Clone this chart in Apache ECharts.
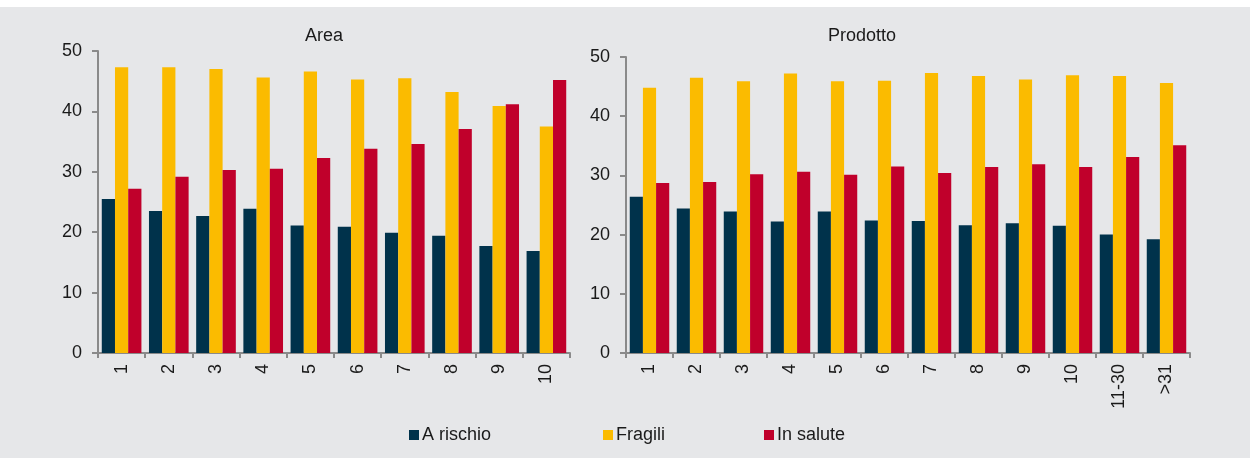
<!DOCTYPE html>
<html>
<head>
<meta charset="utf-8">
<script src="https://cdn.jsdelivr.net/npm/echarts@6/dist/echarts.min.js"></script>
<style>
  html, body { margin: 0; padding: 0; background: #ffffff; }
  #chart { position: absolute; left: 0; top: 7px; width: 1250px; height: 451px; background: #e6e7e9; }
</style>
</head>
<body>
<div id="chart"></div>
<script>
const areaCategories = ['1', '2', '3', '4', '5', '6', '7', '8', '9', '10']
const prodCategories = ['1', '2', '3', '4', '5', '6', '7', '8', '9', '10', '11-30', '>31']

const seriesNames = ['A rischio', 'Fragili', 'In salute']

const areaRischio = [25.5, 23.5, 22.7, 23.9, 21.1, 20.9, 19.9, 19.4, 17.7, 16.9]
const areaFragili = [47.3, 47.3, 47.0, 45.6, 46.6, 45.3, 45.5, 43.2, 40.9, 37.5]
const areaSalute = [27.2, 29.2, 30.3, 30.5, 32.3, 33.8, 34.6, 37.1, 41.2, 45.2]

const prodRischio = [26.4, 24.4, 23.9, 22.2, 23.9, 22.4, 22.3, 21.6, 21.9, 21.5, 20.0, 19.2]
const prodFragili = [44.8, 46.5, 45.9, 47.2, 45.9, 46.0, 47.3, 46.8, 46.2, 46.9, 46.8, 45.6]
const prodSalute = [28.7, 28.9, 30.2, 30.6, 30.1, 31.5, 30.4, 31.4, 31.9, 31.4, 33.1, 35.1]

const colors = ['#00324b', '#fbbb00', '#c0002b']
const textColor = '#1a1a1a'
const axisColor = '#8a8a8a'
const font = 'Liberation Sans, Arial, sans-serif'

const chart = echarts.init(document.getElementById('chart'))

const xAxisBase = (data, gridIndex) => ({
  type: 'category',
  gridIndex,
  data,
  axisLine: { lineStyle: { color: axisColor, width: 2 } },
  axisTick: { show: true, alignWithLabel: false, length: 5, lineStyle: { color: axisColor, width: 2 } },
  axisLabel: { rotate: 90, color: textColor, fontSize: 18, fontFamily: font, interval: 0, margin: 11 },
  splitLine: { show: false }
})

const yAxisBase = (gridIndex) => ({
  type: 'value',
  gridIndex,
  min: 0,
  max: 50,
  interval: 10,
  axisLine: { show: true, lineStyle: { color: axisColor, width: 2 } },
  axisTick: { show: true, length: 6, lineStyle: { color: axisColor, width: 2 } },
  axisLabel: { color: textColor, fontSize: 18, fontFamily: font, margin: 16 },
  splitLine: { show: false }
})

const makeSeries = (name, data, idx, axisIndex) => ({
  name,
  type: 'bar',
  xAxisIndex: axisIndex,
  yAxisIndex: axisIndex,
  data,
  barGap: '0%',
  barCategoryGap: '16%',
  itemStyle: { color: colors[idx] },
  animation: false
})

const legendItem = (name, left) => ({
  data: [name],
  left,
  top: 414,
  itemWidth: 10,
  itemHeight: 10,
  icon: 'rect',
  itemGap: 4,
  textStyle: { color: textColor, fontSize: 18, fontFamily: font, padding: [0, 0, 0, -2] }
})

const option = {
  backgroundColor: '#e6e7e9',
  textStyle: { fontFamily: font },
  title: [
    { text: 'Area', left: 319, top: 15, textAlign: 'center',
      textStyle: { color: textColor, fontSize: 18, fontWeight: 'normal', fontFamily: font } },
    { text: 'Prodotto', left: 857, top: 15, textAlign: 'center',
      textStyle: { color: textColor, fontSize: 18, fontWeight: 'normal', fontFamily: font } }
  ],
  legend: [
    legendItem(seriesNames[0], 404),
    legendItem(seriesNames[1], 598),
    legendItem(seriesNames[2], 759)
  ],
  grid: [
    { left: 98, width: 472, top: 44, height: 302 },
    { left: 626, width: 564, top: 50, height: 296 }
  ],
  xAxis: [xAxisBase(areaCategories, 0), xAxisBase(prodCategories, 1)],
  yAxis: [yAxisBase(0), yAxisBase(1)],
  series: [
    makeSeries(seriesNames[0], areaRischio, 0, 0),
    makeSeries(seriesNames[1], areaFragili, 1, 0),
    makeSeries(seriesNames[2], areaSalute, 2, 0),
    makeSeries(seriesNames[0], prodRischio, 0, 1),
    makeSeries(seriesNames[1], prodFragili, 1, 1),
    makeSeries(seriesNames[2], prodSalute, 2, 1)
  ]
}

chart.setOption(option)
</script>
</body>
</html>
